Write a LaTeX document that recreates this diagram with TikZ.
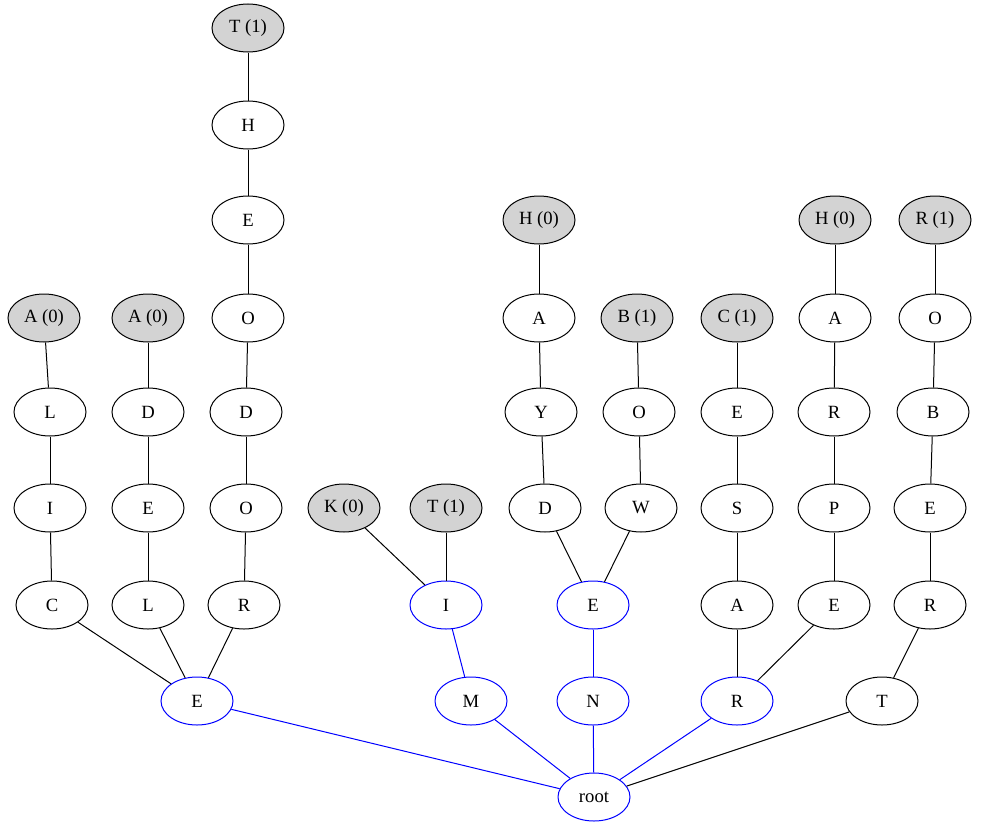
\documentclass[tikz,border=0pt]{standalone}
\usepackage{fontspec}
\setmainfont{Liberation Serif}
\usetikzlibrary{shapes.geometric}
\definecolor{leafgray}{HTML}{D3D3D3}
\begin{document}
\begin{tikzpicture}[x=1pt,y=-1pt,
  nd/.style={ellipse,draw=black,line width=1pt,minimum width=72pt,minimum height=48pt,inner sep=0pt,font=\fontsize{18.67}{20}\selectfont},
  leaf/.style={nd,fill=leafgray},
  bnd/.style={nd,draw=blue},
  ed/.style={draw=black,line width=1pt},
  bed/.style={draw=blue,line width=1pt}]
\useasboundingbox (0,0) rectangle (982,827);
% chain 1: C-I-L-A(0)
\node[leaf] (a1) at (44,318) {A (0)};
\node[nd] (l1) at (50,412) {L};
\node[nd] (i1) at (50,508) {I};
\node[nd] (c1) at (52,605) {C};
% chain 2
\node[leaf] (a2) at (148,318) {A (0)};
\node[nd] (d2) at (148,412) {D};
\node[nd] (e2) at (148,508) {E};
\node[nd] (l2) at (148,605) {L};
% chain 3
\node[leaf] (t3) at (248,28) {T (1)};
\node[nd] (h3) at (248,125) {H};
\node[nd] (e3) at (248,220) {E};
\node[nd] (o3) at (248,318) {O};
\node[nd] (d3) at (246,412) {D};
\node[nd] (o3b) at (246,508) {O};
\node[nd] (r3) at (244,605) {R};
\node[bnd] (E7) at (197,701) {E};
% I branch
\node[leaf] (k4) at (344,508) {K (0)};
\node[leaf] (t4) at (446,508) {T (1)};
\node[bnd] (i4) at (446,605) {I};
\node[bnd] (m4) at (471,701) {M};
% E/N branch
\node[leaf] (h5) at (539,220) {H (0)};
\node[nd] (a5) at (539,318) {A};
\node[nd] (y5) at (541,412) {Y};
\node[nd] (d5) at (545,508) {D};
\node[leaf] (b6) at (637,318) {B (1)};
\node[nd] (o6) at (639,412) {O};
\node[nd] (w6) at (641,508) {W};
\node[bnd] (e6) at (593,605) {E};
\node[bnd] (n6) at (593,701) {N};
% R branch
\node[leaf] (c7) at (737,318) {C (1)};
\node[nd] (e7) at (737,412) {E};
\node[nd] (s7) at (737,508) {S};
\node[nd] (a7) at (737,605) {A};
\node[leaf] (h8) at (835,220) {H (0)};
\node[nd] (a8) at (835,318) {A};
\node[nd] (r8) at (834,412) {R};
\node[nd] (p8) at (834,508) {P};
\node[nd] (e8) at (834,605) {E};
\node[bnd] (r7) at (737,701) {R};
% T branch
\node[leaf] (r9) at (935,220) {R (1)};
\node[nd] (o9) at (935,318) {O};
\node[nd] (b9) at (933,412) {B};
\node[nd] (e9) at (930,508) {E};
\node[nd] (r9b) at (930,605) {R};
\node[nd] (t9) at (882,701) {T};
% root
\node[bnd] (root) at (594,797) {root};
% black edges
\draw[ed] (a1) -- (l1); \draw[ed] (l1) -- (i1); \draw[ed] (i1) -- (c1);
\draw[ed] (a2) -- (d2); \draw[ed] (d2) -- (e2); \draw[ed] (e2) -- (l2);
\draw[ed] (t3) -- (h3); \draw[ed] (h3) -- (e3); \draw[ed] (e3) -- (o3);
\draw[ed] (o3) -- (d3); \draw[ed] (d3) -- (o3b); \draw[ed] (o3b) -- (r3);
\draw[ed] (c1) -- (E7); \draw[ed] (l2) -- (E7); \draw[ed] (r3) -- (E7);
\draw[ed] (k4) -- (i4); \draw[ed] (t4) -- (i4);
\draw[ed] (h5) -- (a5); \draw[ed] (a5) -- (y5); \draw[ed] (y5) -- (d5);
\draw[ed] (b6) -- (o6); \draw[ed] (o6) -- (w6);
\draw[ed] (d5) -- (e6); \draw[ed] (w6) -- (e6);
\draw[ed] (c7) -- (e7); \draw[ed] (e7) -- (s7); \draw[ed] (s7) -- (a7);
\draw[ed] (h8) -- (a8); \draw[ed] (a8) -- (r8); \draw[ed] (r8) -- (p8); \draw[ed] (p8) -- (e8);
\draw[ed] (a7) -- (r7); \draw[ed] (e8) -- (r7);
\draw[ed] (r9) -- (o9); \draw[ed] (o9) -- (b9); \draw[ed] (b9) -- (e9); \draw[ed] (e9) -- (r9b);
\draw[ed] (r9b) -- (t9);
\draw[ed] (t9) -- (root);
% blue edges
\draw[bed] (E7) -- (root);
\draw[bed] (i4) -- (m4);
\draw[bed] (m4) -- (root);
\draw[bed] (e6) -- (n6);
\draw[bed] (n6) -- (root);
\draw[bed] (r7) -- (root);
\end{tikzpicture}
\end{document}
